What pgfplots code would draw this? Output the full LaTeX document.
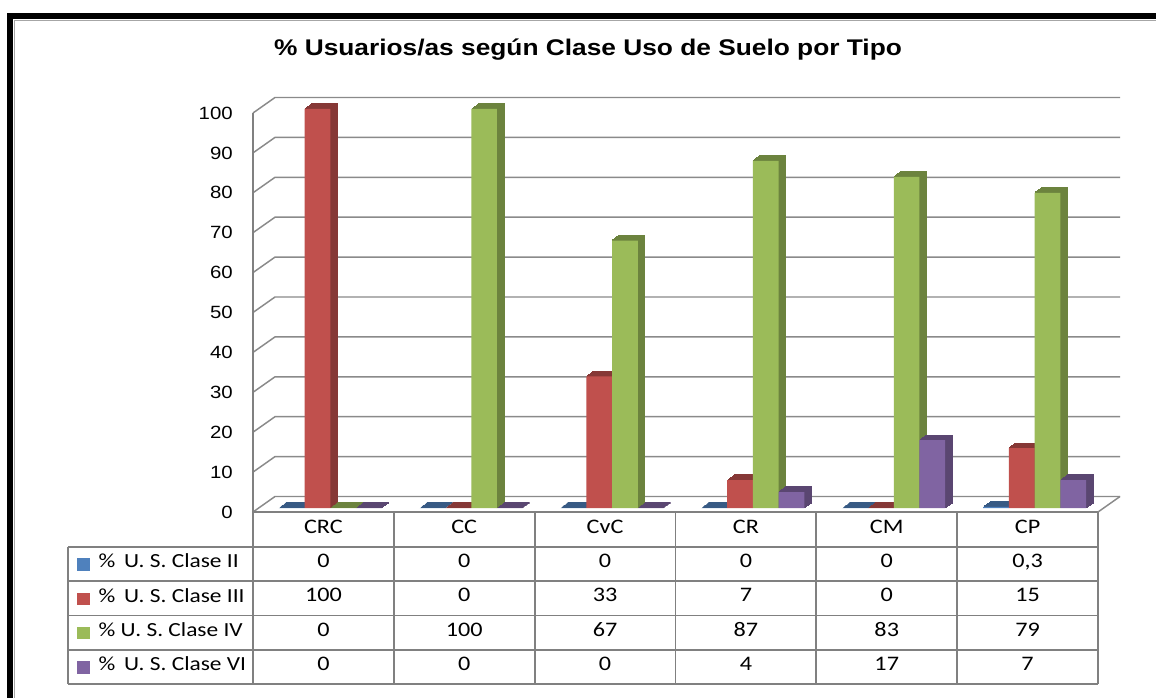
\documentclass[border=0pt]{standalone}
\usepackage{fontspec}
\usepackage{pgfplots}
\pgfplotsset{compat=1.18}
\usepackage{pgfplotstable}
\setmainfont{Liberation Sans}
\newfontfamily\titlefont[FakeStretch=1.16]{Liberation Sans}
\newfontfamily\tickfont[FakeStretch=1.15]{Liberation Sans}
\newfontfamily\tabfont[FakeStretch=1.17]{Carlito}

\definecolor{cII}{HTML}{4F81BD}
\definecolor{cIII}{HTML}{C0504D}
\definecolor{cIV}{HTML}{9BBB59}
\definecolor{cVI}{HTML}{8064A2}
\definecolor{gridc}{HTML}{8A8A8A}
\definecolor{tabc}{HTML}{808080}

\pgfplotstableread{
idx II III IV VI
0 0 100 0 0
1 0 0 100 0
2 0 33 67 0
3 0 7 87 4
4 0 0 83 17
5 0.3 15 79 7
}\data

\pgfplotsset{
  baraxis/.style={anchor=south west, scale only axis, width=633.75pt, height=299.25pt,
    xmin=-0.5, xmax=5.5, ymin=0, ymax=100, hide axis, clip=false, ybar=0pt, bar width=19.3pt},
  darkII/.style={fill=cII!70!black, draw=cII!70!black, line width=0.9pt},
  darkIII/.style={fill=cIII!70!black, draw=cIII!70!black, line width=0.9pt},
  darkIV/.style={fill=cIV!70!black, draw=cIV!70!black, line width=0.9pt},
  darkVI/.style={fill=cVI!70!black, draw=cVI!70!black, line width=0.9pt},
  frontII/.style={fill=cII, draw=none},
  frontIII/.style={fill=cIII, draw=none},
  frontIV/.style={fill=cIV, draw=none},
  frontVI/.style={fill=cVI, draw=none},
}

\newcommand\barlayer[3]{%
  \begin{axis}[baraxis, at={({(260+#1)*0.75pt},{(-508+#2)*0.75pt})}]
    \addplot[#3II] table[x=idx,y=II]{\data};
    \addplot[#3III] table[x=idx,y=III]{\data};
    \addplot[#3IV] table[x=idx,y=IV]{\data};
    \addplot[#3VI] table[x=idx,y=VI]{\data};
  \end{axis}}

\begin{document}
\begin{tikzpicture}
\begin{scope}[x=0.75pt,y=-0.75pt]
  \path[use as bounding box] (0,0) rectangle (1156,698);
  \fill[white] (0,0) rectangle (1156,698);
  % frame
  \fill[black] (7,13) rectangle (1156,19);
  \fill[black] (7,13) rectangle (13,698);
  \draw[gray!70, line width=0.8pt] (14.5,20.5) -- (1156,20.5);
  \draw[gray!70, line width=0.8pt] (14.5,20.5) -- (14.5,698);
  % title
  \node[font=\titlefont\bfseries\fontsize{17}{20}\selectfont] at (588,50) {\% Usuarios/as según Clase Uso de Suelo por Tipo};
  % walls / grid
  \foreach \v in {0,10,...,100} {
    \draw[gridc, line width=1.1pt] (253,{512-3.99*\v}) -- (275,{496.5-3.99*\v}) -- (1120,{496.5-3.99*\v});
  }
  \draw[gridc, line width=1.1pt] (1098,512) -- (1120,496.5);
  \draw[tabc, line width=1.1pt] (253,113) -- (253,512);
\end{scope}

% tick labels
\begin{axis}[anchor=south west, at={(253*0.75pt,-512*0.75pt)}, scale only axis,
  width=633.75pt, height=299.25pt, xmin=-0.5, xmax=5.5, ymin=0, ymax=100,
  hide x axis, axis y line*=left, y axis line style={draw=none},
  ytick={0,10,...,100}, major tick length=0pt,
  /pgf/number format/assume math mode=true,
  yticklabel style={font=\tickfont\fontsize{13.3}{15}\selectfont, anchor=east, inner sep=0pt, xshift=-15pt}]
  \addplot[draw=none] coordinates {(0,0)};
\end{axis}

% extruded bars
\barlayer{7}{5.04}{dark}
\barlayer{6}{4.32}{dark}
\barlayer{5}{3.6}{dark}
\barlayer{4}{2.88}{dark}
\barlayer{3}{2.16}{dark}
\barlayer{2}{1.44}{dark}
\barlayer{1}{0.72}{dark}
\barlayer{0}{0}{front}

\begin{scope}[x=0.75pt,y=-0.75pt]
  % table
  \begin{scope}[tabc, line width=1.3pt]
    \draw (253,512) -- (1098,512);
    \foreach \yy in {547,581.3,615.6,650,684.3} { \draw (68,\yy) -- (1098,\yy); }
    \draw (68,547) -- (68,684.3);
    \foreach \i in {0,...,6} { \draw ({253+140.83*\i},512) -- ({253+140.83*\i},684.3); }
  \end{scope}
  \begin{scope}[every node/.style={font=\tabfont\fontsize{15.5}{18}\selectfont, anchor=mid}]
    \foreach \lab [count=\i from 0] in {CRC,CC,CvC,CR,CM,CP} {
      \node at ({253+140.83*(\i+0.5)},529.5) {\lab};
    }
    \foreach \vals [count=\r from 0] in {{0,0,0,0,0,{0,3}},{100,0,33,7,0,15},{0,100,67,87,83,79},{0,0,0,4,17,7}} {
      \foreach \val [count=\i from 0] in \vals {
        \node at ({253+140.83*(\i+0.5)},{547+34.3*(\r+0.5)}) {\val};
      }
    }
  \end{scope}
  \begin{scope}[every node/.style={font=\tabfont\fontsize{15}{18}\selectfont, anchor=mid west}]
    \node at (94,564.2) {\%\ \,U. S. Clase II};
    \node at (94,598.5) {\%\ \,U. S. Clase III};
    \node at (94,632.8) {\% U. S. Clase IV};
    \node at (94,667.1) {\%\ \,U. S. Clase VI};
  \end{scope}
  \fill[cII] (77,558.2) rectangle (89.5,570.7);
  \fill[cIII] (77,592.5) rectangle (89.5,605);
  \fill[cIV] (77,626.8) rectangle (89.5,639.3);
  \fill[cVI] (77,661.1) rectangle (89.5,673.6);
\end{scope}
\end{tikzpicture}
\end{document}
